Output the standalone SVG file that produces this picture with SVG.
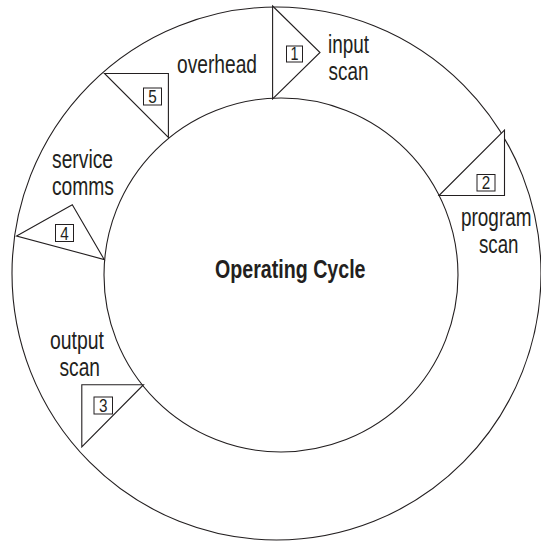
<svg xmlns="http://www.w3.org/2000/svg" width="541" height="545" viewBox="0 0 541 545">
<style>
.ln{fill:none;stroke:#231f20;stroke-width:1.1}
.tri{fill:#fff;stroke:#231f20;stroke-width:1.1;stroke-linejoin:miter}
.box{fill:#fff;stroke:#231f20;stroke-width:1}
.lbl{font-family:"Liberation Sans",Arial,sans-serif;font-size:25.5px;fill:#231f20}
.num{font-family:"Liberation Sans",Arial,sans-serif;font-size:18.5px;fill:#231f20;text-anchor:middle}
.title{font-family:"Liberation Sans",Arial,sans-serif;font-size:25px;font-weight:bold;fill:#231f20}
</style>
<rect width="541" height="545" fill="#fff"/>
<g id="ring">
  <ellipse class="ln" cx="276.5" cy="273.5" rx="264.5" ry="266.5"/>
  <circle class="ln" cx="281" cy="275" r="177"/>
</g>
<g id="center">
  <text class="title" x="215" y="277.5" textLength="150.5" lengthAdjust="spacingAndGlyphs">Operating Cycle</text>
</g>
<g id="connectors">
  <g id="arrow1"><polygon class="tri" points="272.6,6 320,52.5 272.6,99"/></g>
  <g id="arrow2"><polygon class="tri" points="504.5,130 504.5,195.5 439,195.5"/></g>
  <g id="arrow3"><polygon class="tri" points="81.8,384.7 143.5,384.7 81.8,447"/></g>
  <g id="arrow4"><polygon class="tri" points="16.6,236 72.3,204.8 104.2,259.5"/></g>
  <g id="arrow5"><polygon class="tri" points="104.5,73.5 168.4,73.5 168.4,137.5"/></g>
</g>
<g id="phase1">
  <rect class="box" x="286.5" y="46" width="16" height="16"/>
  <text class="num" x="294.5" y="60" textLength="8" lengthAdjust="spacingAndGlyphs">1</text>
  <text class="lbl" x="328" y="53" textLength="41" lengthAdjust="spacingAndGlyphs">input</text>
  <text class="lbl" x="328.5" y="80" textLength="40" lengthAdjust="spacingAndGlyphs">scan</text>
</g>
<g id="phase2">
  <rect class="box" x="477" y="174.5" width="18" height="16.5"/>
  <text class="num" x="486" y="189" textLength="8.5" lengthAdjust="spacingAndGlyphs">2</text>
  <text class="lbl" transform="translate(461,226) scale(0.743,1)" x="0" y="0">program</text>
  <text class="lbl" x="479" y="252.5" textLength="39.5" lengthAdjust="spacingAndGlyphs">scan</text>
</g>
<g id="phase3">
  <rect class="box" x="94" y="397" width="18.5" height="17"/>
  <text class="num" x="103.2" y="412" textLength="8.5" lengthAdjust="spacingAndGlyphs">3</text>
  <text class="lbl" x="50" y="348.5" textLength="54" lengthAdjust="spacingAndGlyphs">output</text>
  <text class="lbl" x="59.5" y="375.5" textLength="40.5" lengthAdjust="spacingAndGlyphs">scan</text>
</g>
<g id="phase4">
  <rect class="box" x="55.5" y="224.5" width="18" height="17"/>
  <text class="num" x="64.5" y="239.5" textLength="8.5" lengthAdjust="spacingAndGlyphs">4</text>
  <text class="lbl" x="52" y="168" textLength="61" lengthAdjust="spacingAndGlyphs">service</text>
  <text class="lbl" x="52" y="195" textLength="62" lengthAdjust="spacingAndGlyphs">comms</text>
</g>
<g id="phase5">
  <rect class="box" x="143.5" y="88" width="18" height="17"/>
  <text class="num" x="152.5" y="103" textLength="8.5" lengthAdjust="spacingAndGlyphs">5</text>
  <text class="lbl" x="177" y="73" textLength="80" lengthAdjust="spacingAndGlyphs">overhead</text>
</g>
</svg>
